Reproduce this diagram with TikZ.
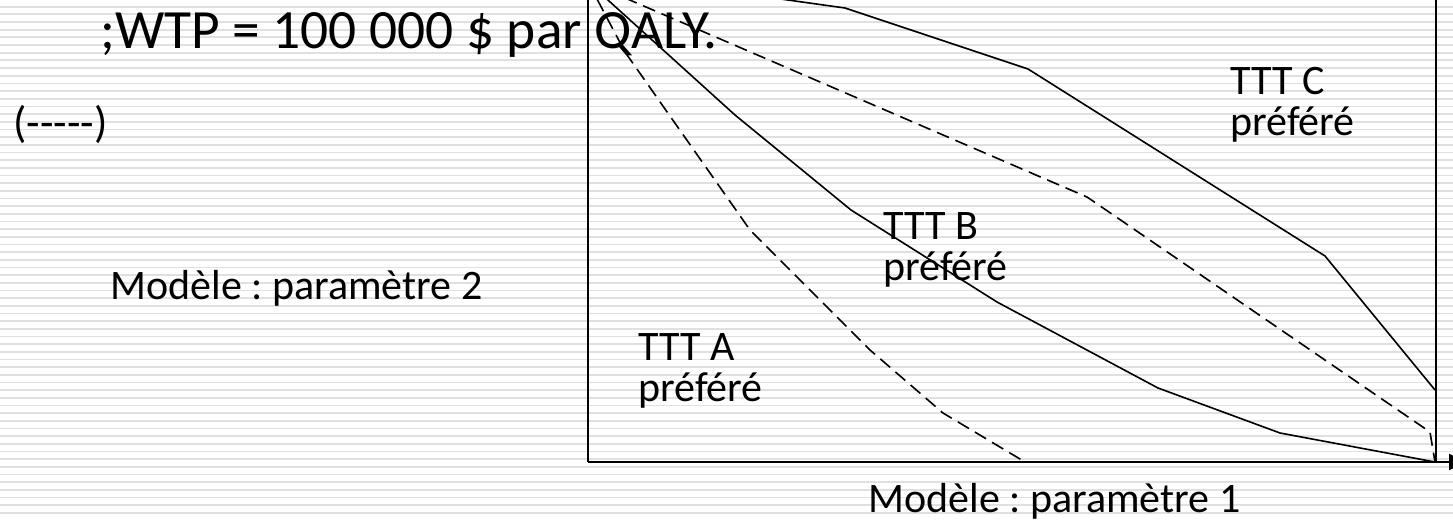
\documentclass[tikz,border=0pt]{standalone}
\usepackage{fontspec}
\setmainfont{Carlito}
\usetikzlibrary{arrows.meta}
\frenchspacing

\tikzset{
  stripe/.style={line width=0.9pt, color=black!12},
  courbe/.style={line width=0.8pt},
  seuil/.style={line width=0.8pt, dash pattern=on 6.5pt off 3.5pt},
  etiquette/.style={inner sep=0pt, font=\fontsize{21pt}{20.5pt}\selectfont, align=left},
  titre/.style={inner sep=0pt, font=\fontsize{27.7pt}{30pt}\selectfont},
}

\begin{document}
\begin{tikzpicture}[x=0.5pt, y=-0.5pt]
	%%%%% FOND %%%%%
	\useasboundingbox (0,0) rectangle (1453,520);
	\fill[white] (0,0) rectangle (1453,520);
	\foreach \k in {0,...,67}
		\draw[stripe] (0,{6.7+7.67*\k}) -- (1453,{6.7+7.67*\k});
	
	%%%%% AXES %%%%%
	\coordinate (O) at (588,-18);
	\draw[line width=0.65pt] (588,-40) -- (588,462);
	\draw[line width=0.65pt] (1436,-40) -- (1436,462);
	\draw[line width=1.25pt, -{Triangle[length=8pt,width=8pt]}] (588,462) -- (1465,462);
	
	%%%%% TEXTES %%%%%
	\node[titre, anchor=base west] (wtp) at (100,48) {;WTP = 100 000 \$ par QALY.};
	\node[etiquette, anchor=base west, font=\fontsize{22pt}{22pt}\selectfont] (legende) at (13,137) {(-{}-{}-{}-{}-)};
	\node[etiquette, anchor=base west] (param2) at (110,299) {Modèle : paramètre 2};
	\node[etiquette, anchor=base west] (param1) at (868,512) {Modèle : paramètre 1};
	\node[etiquette, anchor=north west] (tttC) at (1230,67) {TTT C\\préféré};
	\node[etiquette, anchor=north west] (tttB) at (883,212) {TTT B\\préféré};
	\node[etiquette, anchor=north west] (tttA) at (638,333) {TTT A\\préféré};
	
	%%%%% COURBES %%%%%
	\draw[courbe] (588,-28) -- (845,8) -- (1028,69) -- (1325,256) -- (1435,390);
	\draw[courbe] (O) -- (735,115) -- (851,210) -- (997,302) -- (1158,388) -- (1280,433) -- (1435,462);
	\draw[seuil] (O) -- (1087,197) -- (1430,432) -- (1435,462);
	\draw[seuil] (O) -- (625,52) -- (750,230) -- (870,350) -- (943,413) -- (1025,462);
\end{tikzpicture}
\end{document}
